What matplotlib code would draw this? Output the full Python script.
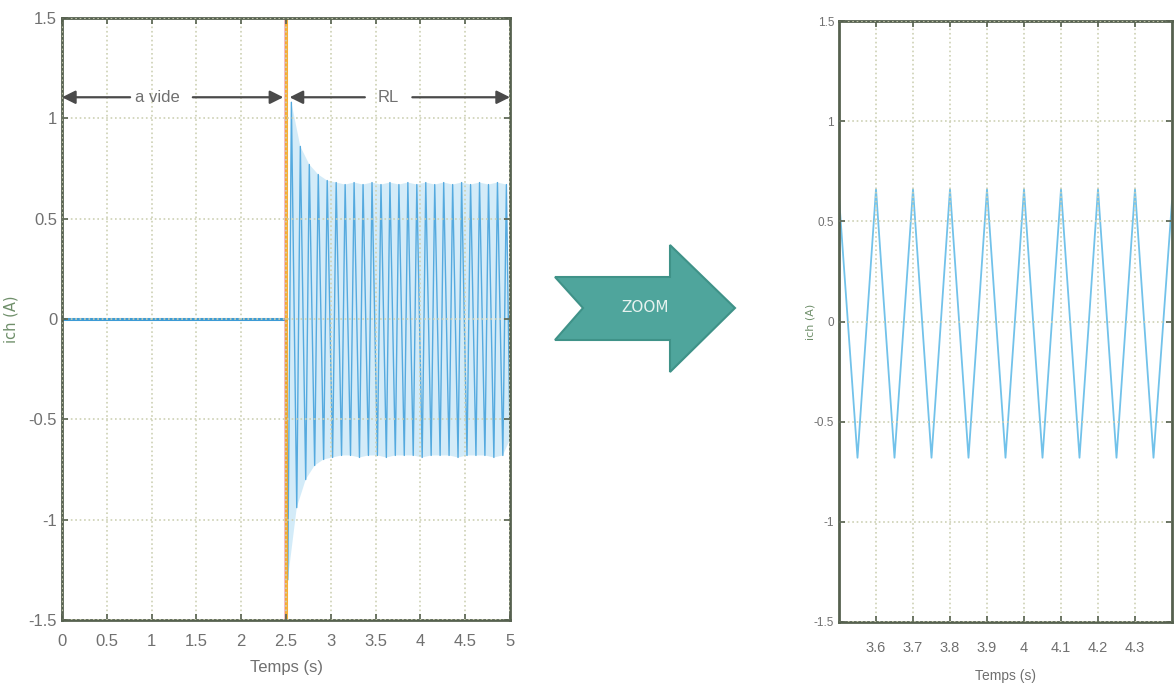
import matplotlib.pyplot as plt
from matplotlib.patches import Polygon

plt.rcParams['font.family'] = ['Liberation Sans', 'DejaVu Sans']

# courant de charge, à vide puis en charge RL
t_vide = [0.0, 2.5]
i_vide = [0.0, 0.0]

t_rl = [2.50, 2.52, 2.56, 2.62, 2.66, 2.72, 2.76, 2.82, 2.86, 2.92, 2.96,
        3.02, 3.06, 3.12, 3.16, 3.22, 3.26, 3.32, 3.36, 3.42, 3.46,
        3.52, 3.56, 3.62, 3.66, 3.72, 3.76, 3.82, 3.86, 3.92, 3.96,
        4.02, 4.06, 4.12, 4.16, 4.22, 4.26, 4.32, 4.36, 4.42, 4.46,
        4.52, 4.56, 4.62, 4.66, 4.72, 4.76, 4.82, 4.86, 4.92, 4.96, 5.00]
i_rl = [0.00, -1.30, 1.08, -0.94, 0.86, -0.80, 0.77, -0.73, 0.72, -0.70, 0.69,
        -0.69, 0.68, -0.68, 0.67, -0.68, 0.68, -0.69, 0.67, -0.68, 0.68,
        -0.68, 0.67, -0.69, 0.68, -0.68, 0.67, -0.68, 0.68, -0.68, 0.67,
        -0.69, 0.68, -0.68, 0.67, -0.68, 0.68, -0.68, 0.67, -0.69, 0.68,
        -0.68, 0.67, -0.68, 0.68, -0.68, 0.67, -0.69, 0.68, -0.68, 0.67, -0.60]

# zoom 3.5 - 4.4 s
t_zoom = [3.50, 3.55, 3.60, 3.65, 3.70, 3.75, 3.80, 3.85, 3.90, 3.95,
          4.00, 4.05, 4.10, 4.15, 4.20, 4.25, 4.30, 4.35, 4.40]
i_zoom = [0.62, -0.68, 0.66, -0.68, 0.66, -0.68, 0.66, -0.68, 0.66, -0.68,
          0.66, -0.68, 0.66, -0.68, 0.66, -0.68, 0.66, -0.68, 0.60]

yticks = [-1.5, -1, -0.5, 0, 0.5, 1, 1.5]
ylabels = ['-1.5', '-1', '-0.5', '0', '0.5', '1', '1.5']
xticks_g = [0, 0.5, 1, 1.5, 2, 2.5, 3, 3.5, 4, 4.5, 5]
xlabels_g = ['0', '0.5', '1', '1.5', '2', '2.5', '3', '3.5', '4', '4.5', '5']
xticks_d = [3.6, 3.7, 3.8, 3.9, 4.0, 4.1, 4.2, 4.3]
xlabels_d = ['3.6', '3.7', '3.8', '3.9', '4', '4.1', '4.2', '4.3']

W, H = 1176, 688
fig = plt.figure(figsize=(W / 100, H / 100), dpi=100)
fig.patch.set_facecolor('white')

spine_c = '#56614f'
txt_c = '#707070'
grid_c = '#cdd1b4'


def style(ax, fs):
    for s in ax.spines.values():
        s.set_color(spine_c)
        s.set_linewidth(2)
    ax.tick_params(direction='in', length=4, width=1.2, color=spine_c,
                   top=True, right=True, labelcolor=txt_c, labelsize=fs)
    ax.grid(True, linestyle=':', color=grid_c, linewidth=1.2)
    ax.set_axisbelow(False)


# --- graphe complet ---
ax1 = fig.add_axes([62 / W, 1 - 620 / H, 448 / W, 602 / H])
# enveloppe : crêtes puis creux
pk_t, pk_v = t_rl[2::2], i_rl[2::2]
cx_t, cx_v = t_rl[1::2], i_rl[1::2]
ax1.fill(pk_t + cx_t[::-1], pk_v + cx_v[::-1], color='#c8e7f7', alpha=0.8, lw=0)
ax1.plot(t_rl, i_rl, color='#55aadf', lw=1.0)
ax1.plot(t_vide, i_vide, color='#3d9bd6', lw=2.2)
ax1.axvline(2.49, color='#e879a0', lw=1.2, alpha=0.6)
ax1.axvline(2.5, color='#f5a623', lw=2.2, alpha=0.9)
ax1.set_xlim(0, 5)
ax1.set_ylim(-1.5, 1.5)
ax1.set_xticks(xticks_g, xlabels_g)
ax1.set_yticks(yticks, ylabels)
style(ax1, 12)
ax1.tick_params(axis='x', pad=10)
ax1.set_xlabel('Temps (s)', color=txt_c, fontsize=12, labelpad=8)
ax1.set_ylabel('ich (A)', color='#6f8f6a', fontsize=10.5,
               family=['DejaVu Sans'])
ax1.yaxis.set_label_coords(-0.098, 0.5)

# flèches a vide / RL
arr = dict(arrowstyle='-|>', color='#4a4a4a', lw=1.6, mutation_scale=20,
           shrinkA=0, shrinkB=0)
ya = 1.105
ax1.annotate('', xy=(0.0, ya), xytext=(0.76, ya), arrowprops=arr)
ax1.annotate('', xy=(2.47, ya), xytext=(1.46, ya), arrowprops=arr)
ax1.text(1.06, ya, 'a vide', ha='center', va='center', color=txt_c, fontsize=12)
ax1.annotate('', xy=(2.54, ya), xytext=(3.38, ya), arrowprops=arr)
ax1.annotate('', xy=(5.0, ya), xytext=(3.91, ya), arrowprops=arr)
ax1.text(3.64, ya, 'RL', ha='center', va='center', color=txt_c, fontsize=12)

# --- zoom ---
ax2 = fig.add_axes([839 / W, 1 - 622 / H, 333 / W, 601 / H])
ax2.plot(t_zoom, i_zoom, color='#72c2ea', lw=1.3)
ax2.set_xlim(3.5, 4.4)
ax2.set_ylim(-1.5, 1.5)
ax2.set_xticks(xticks_d, xlabels_d)
ax2.set_yticks(yticks, ylabels)
style(ax2, 10.5)
ax2.tick_params(axis='y', labelsize=8.5)
ax2.tick_params(axis='x', pad=14)
ax2.set_xlabel('Temps (s)', color=txt_c, fontsize=10, labelpad=10)
ax2.set_ylabel('ich (A)', color='#6f8f6a', fontsize=8,
               family=['DejaVu Sans'])
ax2.yaxis.set_label_coords(-0.07, 0.5)

# flèche ZOOM
pts = [(555, 277), (670, 277), (670, 245), (735, 308), (670, 372),
       (670, 340), (555, 340), (583, 308)]
poly = Polygon([(x / W, 1 - y / H) for x, y in pts], closed=True,
               transform=fig.transFigure, facecolor='#4fa59c',
               edgecolor='#3f9288', lw=1.5)
fig.patches.append(poly)
fig.text(645 / W, 1 - 307 / H, 'ZOOM', ha='center', va='center',
         color='#e6f2ef', fontsize=11, family=['DejaVu Sans'])

fig.savefig('out.png', dpi=100)
